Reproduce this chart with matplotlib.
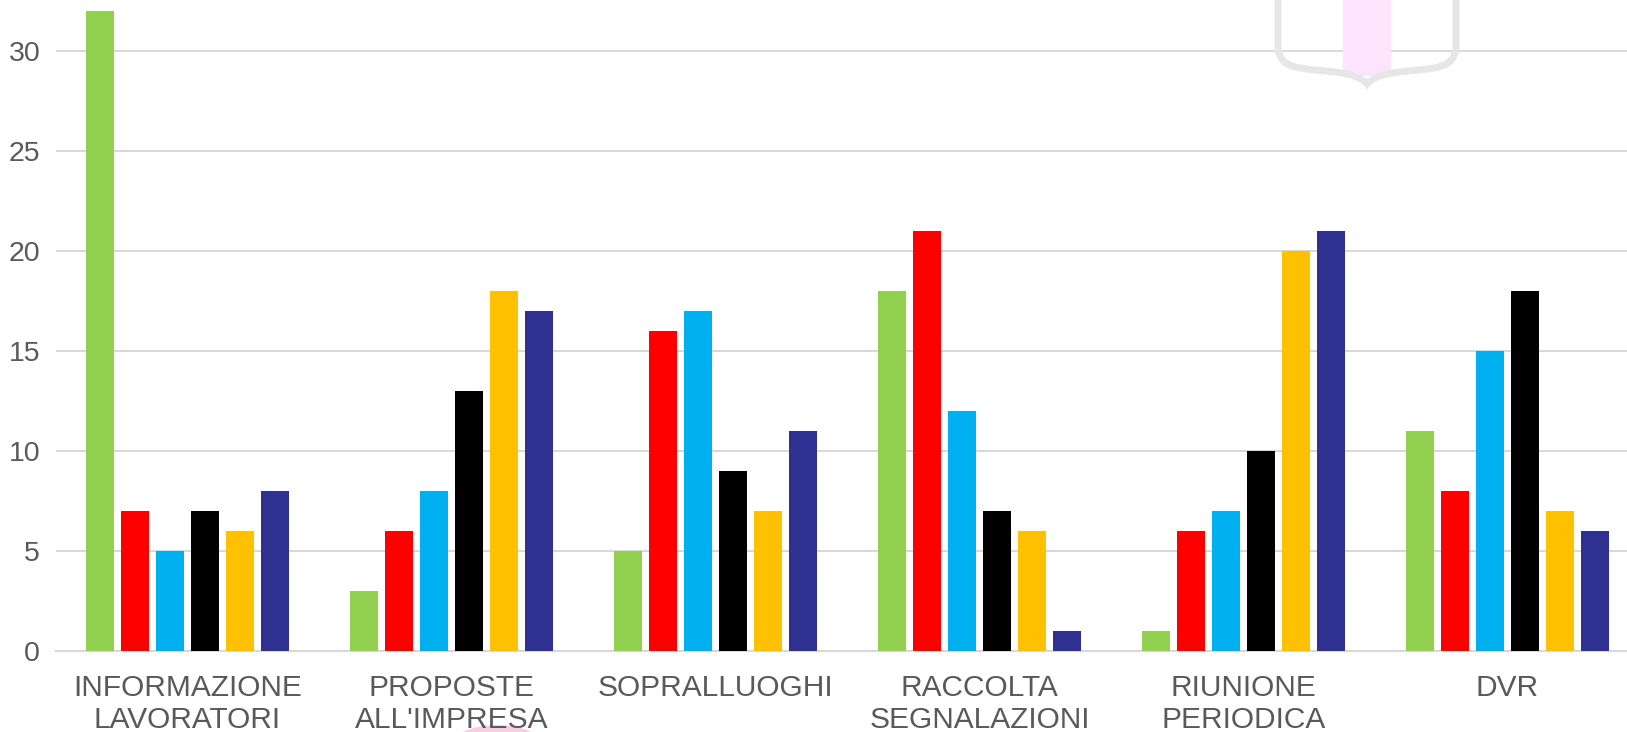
import numpy as np
import matplotlib.pyplot as plt
from matplotlib.path import Path
from matplotlib.patches import PathPatch, Ellipse, Rectangle

categories = ["INFORMAZIONE\nLAVORATORI", "PROPOSTE\nALL'IMPRESA", "SOPRALLUOGHI",
              "RACCOLTA\nSEGNALAZIONI", "RIUNIONE\nPERIODICA", "DVR"]
s_green  = [32, 3, 5, 18, 1, 11]
s_red    = [7, 6, 16, 21, 6, 8]
s_cyan   = [5, 8, 17, 12, 7, 15]
s_black  = [7, 13, 9, 7, 10, 18]
s_amber  = [6, 18, 7, 6, 20, 7]
s_navy   = [8, 17, 11, 1, 21, 6]
series = [s_green, s_red, s_cyan, s_black, s_amber, s_navy]
colors = ["#92D050", "#FF0000", "#00B0F0", "#000000", "#FFC000", "#2E3192"]

plt.rcParams['font.family'] = ['Liberation Sans', 'DejaVu Sans']

W, H = 1627, 732
fig = plt.figure(figsize=(W / 100, H / 100), dpi=100)
ax = fig.add_axes([55.5 / W, (H - 651.3) / H, 6 * 264 / W, 651.3 / H])

x = np.arange(len(categories))
bar_w = 0.104
step = 0.1326
for i, vals in enumerate(series):
    ax.bar(x + (i - 2.5) * step, vals, width=bar_w, color=colors[i], zorder=3)

ax.set_xlim(-0.5, len(categories) - 0.5)
ax.set_ylim(0, 32.57)
ax.set_yticks([0, 5, 10, 15, 20, 25, 30])
ax.yaxis.grid(True, color="#D9D9D9", linewidth=1.5, zorder=0)
ax.set_axisbelow(True)
for side in ["top", "right", "left"]:
    ax.spines[side].set_visible(False)
ax.spines["bottom"].set_color("#D9D9D9")
ax.spines["bottom"].set_linewidth(1.5)
ax.tick_params(axis="y", length=0, labelsize=20.5, labelcolor="#595959", pad=11)
ax.tick_params(axis="x", length=0, labelsize=21.5, labelcolor="#595959", pad=16)
ax.set_xticks(x)
ax.set_xticklabels(categories, linespacing=1.2)


# watermark shapes (logo remnants)
def px(xp, yp):
    return (xp / W, 1 - yp / H)

stripe = Rectangle(px(1343, 76), 48 / W, 86 / H, transform=fig.transFigure,
                   facecolor="#FCE4FC", edgecolor="none", zorder=5)
fig.patches.append(stripe)

pts = [(1278, -10), (1278, 45),
       (1278, 70), (1300, 68), (1335, 72),
       (1352, 74), (1362, 78), (1367, 84),
       (1372, 78), (1382, 74), (1399, 72),
       (1434, 68), (1456, 70), (1456, 45),
       (1456, -10)]
codes = [Path.MOVETO, Path.LINETO,
         Path.CURVE4, Path.CURVE4, Path.CURVE4,
         Path.CURVE4, Path.CURVE4, Path.CURVE4,
         Path.CURVE4, Path.CURVE4, Path.CURVE4,
         Path.CURVE4, Path.CURVE4, Path.CURVE4,
         Path.LINETO]
shield = PathPatch(Path([px(a, b) for a, b in pts], codes), transform=fig.transFigure,
                   facecolor="none", edgecolor="#E6E6E6", linewidth=5, zorder=6)
fig.patches.append(shield)

blob = Ellipse(px(497, 748), 95 / W, 46 / H, transform=fig.transFigure,
               facecolor="#F9CDE0", edgecolor="none", zorder=-1)
fig.patches.append(blob)

fig.savefig("out.png", dpi=100)
